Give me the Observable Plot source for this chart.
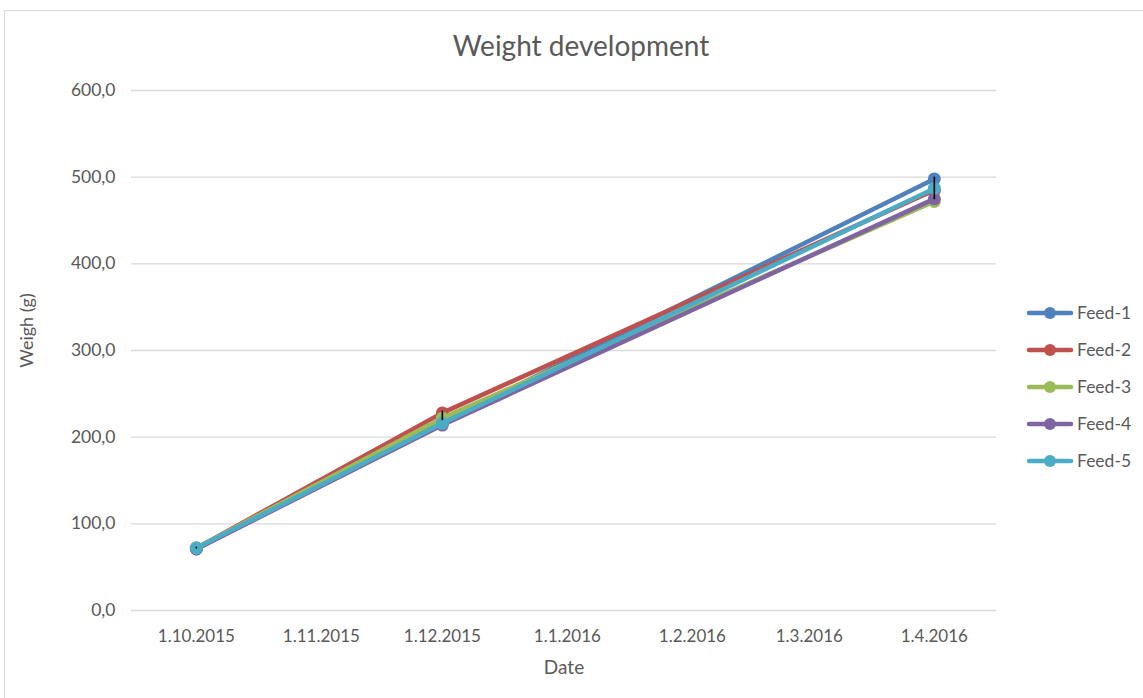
<!DOCTYPE html>
<html>
<head>
<meta charset="utf-8">
<script src="https://cdn.jsdelivr.net/npm/d3@7"></script>
<script src="https://cdn.jsdelivr.net/npm/@observablehq/plot@0.6"></script>
<style>
  html, body { margin: 0; padding: 0; background: #fff; width: 1143px; height: 698px; overflow: hidden; }
  #frame { position: absolute; left: 4px; top: 10px; width: 1200px; height: 760px; border: 1.5px solid #d9d9d9; box-sizing: border-box; }
  #title { position: absolute; left: 0; width: 1162px; top: 28px; text-align: center; font: 28px Lato, "Open Sans", sans-serif; color: #595959; }
  #chart { position: absolute; left: 0; top: 0; }
  #legend { position: absolute; left: 1026px; top: 294px; font: 17.5px Lato, "Open Sans", sans-serif; color: #595959; }
  .item { display: flex; align-items: center; height: 37px; }
  .item svg { margin-right: 3px; }
</style>
</head>
<body>
<div id="frame"></div>
<div id="chart"></div>
<div id="title">Weight development</div>
<div id="legend"></div>
<script>
const dates = ["2015-10-01", "2015-12-01", "2016-04-01"];
const seriesNames = ["Feed-1", "Feed-2", "Feed-3", "Feed-4", "Feed-5"];
const feed1 = [71, 217, 498];
const feed2 = [72, 228, 485];
const feed3 = [72, 222, 472];
const feed4 = [71, 214, 475];
const feed5 = [72, 216, 487];
const errLow = [71, 219, 474];
const errHigh = [73, 230, 500];
const colors = ["#4f81bd", "#c0504d", "#9bbb59", "#8064a2", "#4bacc6"];
const yTicks = [0, 100, 200, 300, 400, 500, 600];
const xTicks = ["2015-10-01", "2015-11-01", "2015-12-01", "2016-01-01", "2016-02-01", "2016-03-01", "2016-04-01"];

const values = [feed1, feed2, feed3, feed4, feed5];
const parse = d3.utcParse("%Y-%m-%d");
const rows = [];
seriesNames.forEach((s, i) => dates.forEach((d, j) => rows.push({series: s, date: parse(d), value: values[i][j]})));
const errRows = dates.map((d, j) => ({date: parse(d), lo: errLow[j], hi: errHigh[j]}));

const marks = [
  Plot.ruleY(yTicks, {stroke: "#d9d9d9", strokeWidth: 1.3}),
  Plot.axisY(yTicks, {tickSize: 0, tickPadding: 16, tickFormat: d => d3.format(".1f")(d).replace(".", ","), fontSize: 17.5, fill: "#595959", label: null}),
  Plot.axisX(xTicks.map(parse), {tickSize: 0, tickPadding: 19, tickFormat: d3.utcFormat("%-d.%-m.%Y"), fontSize: 17, fill: "#595959", label: null}),
  Plot.text(["Date"], {frameAnchor: "bottom", dy: 63, fontSize: 19, fill: "#595959"}),
  Plot.text(["Weigh (g)"], {frameAnchor: "left", textAnchor: "middle", dx: -104, dy: -20, rotate: -90, fontSize: 18, fill: "#595959"})
];
seriesNames.forEach((s, i) => {
  const data = rows.filter(r => r.series === s);
  marks.push(Plot.line(data, {x: "date", y: "value", stroke: colors[i], strokeWidth: 4.5, strokeLinejoin: "round", strokeLinecap: "round"}));
  marks.push(Plot.dot(data, {x: "date", y: "value", fill: colors[i], r: 6.5, stroke: "none"}));
});
marks.push(Plot.ruleX(errRows, {x: "date", y1: "lo", y2: "hi", stroke: "#000", strokeWidth: 1.6}));

const chart = Plot.plot({
  width: 1143,
  height: 698,
  marginLeft: 131,
  marginRight: 147,
  marginTop: 90,
  marginBottom: 88,
  style: {fontFamily: "Lato, 'Open Sans', sans-serif", background: "transparent", overflow: "visible"},
  x: {type: "utc", domain: [new Date(Date.UTC(2015, 8, 14, 22)), new Date(Date.UTC(2016, 3, 16, 10))]},
  y: {domain: [0, 600]},
  marks
});
document.getElementById("chart").appendChild(chart);

const legend = document.getElementById("legend");
seriesNames.forEach((s, i) => {
  const item = document.createElement("div");
  item.className = "item";
  item.innerHTML = `<svg width="48" height="14"><line x1="3" y1="7" x2="45" y2="7" stroke="${colors[i]}" stroke-width="4.5" stroke-linecap="round"/><circle cx="24" cy="7" r="6" fill="${colors[i]}"/></svg><span>${s}</span>`;
  legend.appendChild(item);
});
</script>
</body>
</html>
